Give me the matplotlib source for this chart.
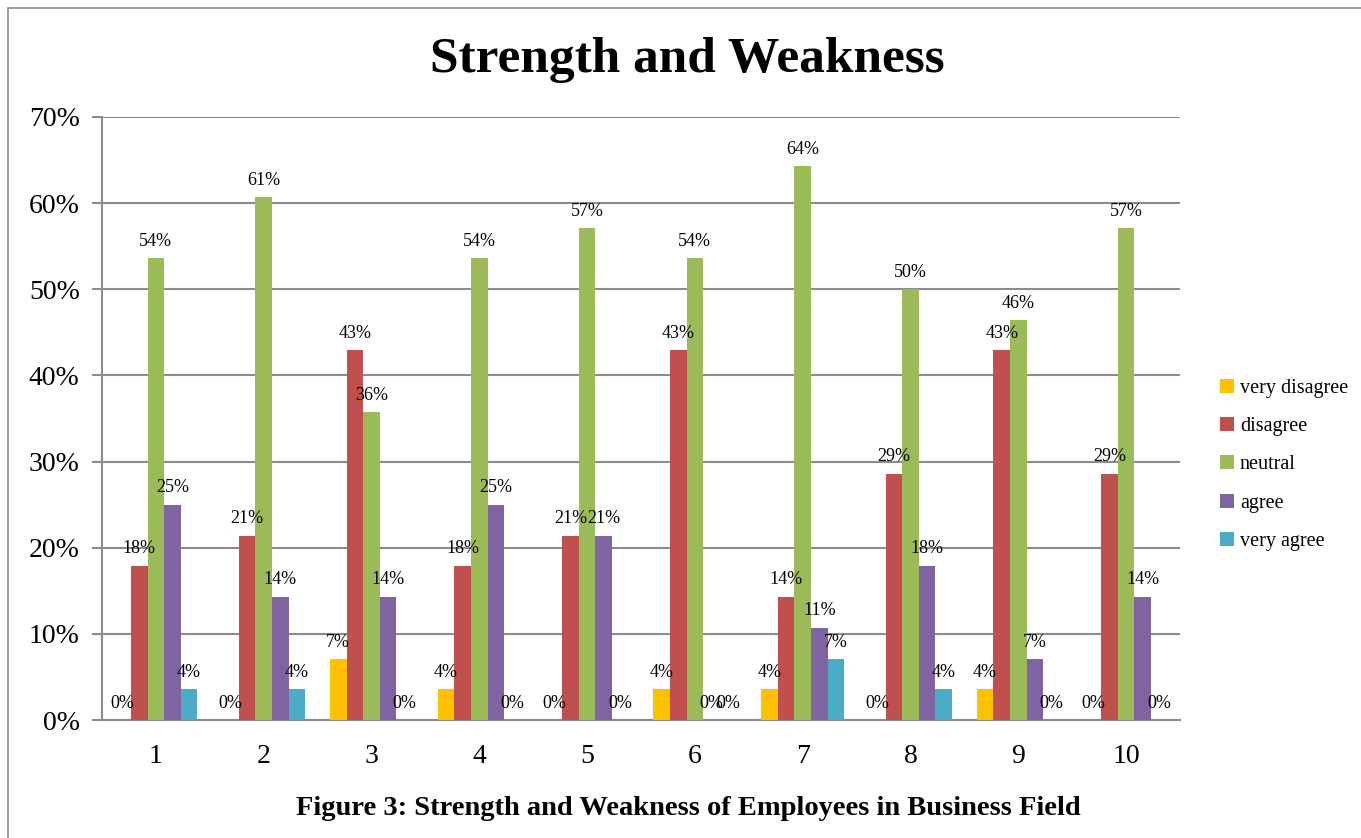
import numpy as np
import matplotlib
matplotlib.use("Agg")
import matplotlib.pyplot as plt
from matplotlib.patches import Rectangle

plt.rcParams["font.family"] = ["Liberation Serif", "DejaVu Serif"]

# values in percent
questions = [str(i) for i in range(1, 11)]
series = ["very disagree", "disagree", "neutral", "agree", "very agree"]
very_disagree = [0, 0, 7.1, 3.6, 0, 3.6, 3.6, 0, 3.6, 0]
disagree = [17.9, 21.4, 42.9, 17.9, 21.4, 42.9, 14.3, 28.6, 42.9, 28.6]
neutral = [53.6, 60.7, 35.7, 53.6, 57.1, 53.6, 64.3, 50.0, 46.4, 57.1]
agree = [25.0, 14.3, 14.3, 25.0, 21.4, 0, 10.7, 17.9, 7.1, 14.3]
very_agree = [3.6, 3.6, 0, 0, 0, 0, 7.1, 3.6, 0, 0]
colors = ["#FFC000", "#C0504D", "#9BBB59", "#8064A2", "#4BACC6"]

fig = plt.figure(figsize=(13.61, 8.38), dpi=100)
ax = fig.add_axes([0.0749, 0.1408, 0.7921, 0.7196])

# outer frame like the embedded Excel chart
fig.patches.append(Rectangle((8 / 1361, -0.05), 1.1, 1 - 8 / 838 + 0.05,
                             transform=fig.transFigure, fill=False,
                             ec="#8c8c8c", lw=1.2))

x = np.arange(1, 11)
w = 0.154
for i, (name, vals, c) in enumerate(zip(series, [very_disagree, disagree, neutral, agree, very_agree], colors)):
    bars = ax.bar(x + (i - 2) * w, np.array(vals) / 100, w, color=c, label=name, zorder=3)
    ax.bar_label(bars, labels=[f"{round(v):.0f}%" for v in vals], padding=6,
                 fontsize=13, zorder=4)

ax.set_xlim(0.5, 10.5)
ax.set_ylim(0, 0.7)
ax.set_yticks(np.arange(0, 0.71, 0.1))
ax.set_yticklabels([f"{int(round(t * 100))}%" for t in np.arange(0, 0.71, 0.1)], fontsize=20)
ax.set_xticks(x)
ax.set_xticklabels(questions, fontsize=20)
ax.tick_params(axis="x", length=0, pad=17)
ax.tick_params(axis="y", length=7, width=1.5, color="#8c8c8c", pad=9)
ax.yaxis.grid(True, color="#8c8c8c", lw=1.5, zorder=0)
for s in ["top", "right"]:
    ax.spines[s].set_visible(False)
for s in ["left", "bottom"]:
    ax.spines[s].set_color("#8c8c8c")
    ax.spines[s].set_linewidth(1.5)

fig.text(0.505, 0.928, "Strength and Weakness", ha="center", va="center",
         fontsize=37, fontweight="bold")
fig.text(0.5055, 0.035, "Figure 3: Strength and Weakness of Employees in Business Field",
         ha="center", va="center", fontsize=20.5, fontweight="bold")

ax.legend(loc="center left", bbox_to_anchor=(1.02, 0.423), frameon=False,
          fontsize=14.5, handlelength=0.7, handleheight=0.7, handletextpad=0.3,
          labelspacing=0.95)

fig.savefig("out.png", dpi=100)
